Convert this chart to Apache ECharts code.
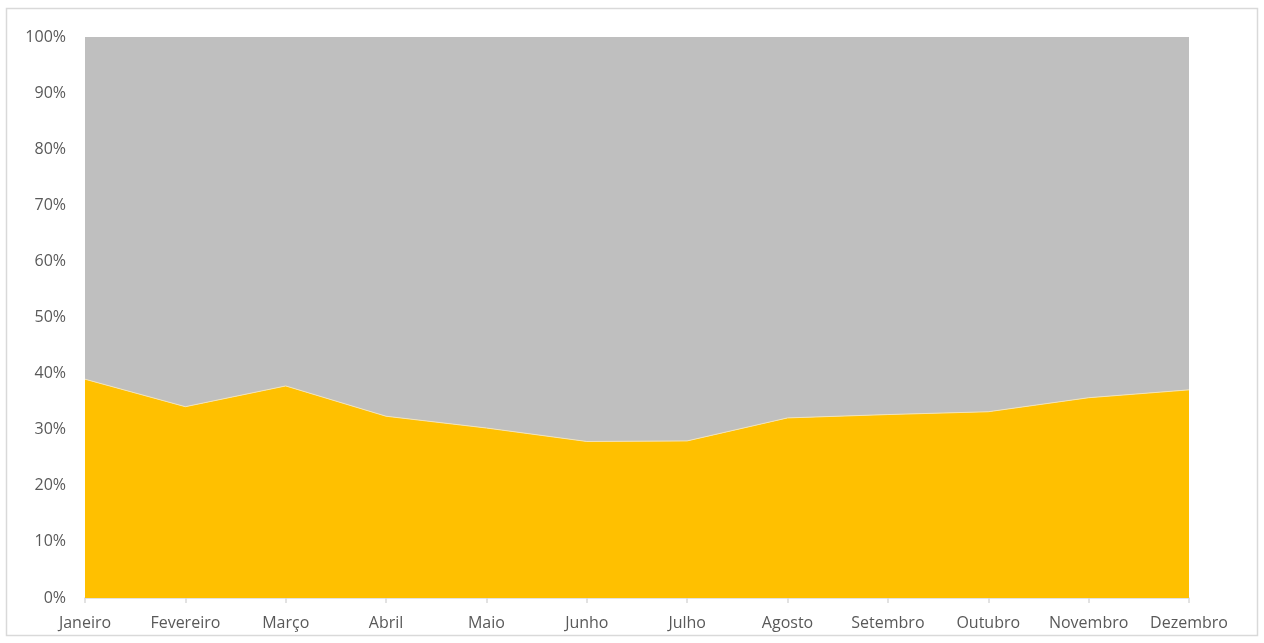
<!DOCTYPE html>
<html>
<head>
<meta charset="utf-8">
<style>
  html, body { margin: 0; padding: 0; background: #ffffff; }
  #chart { width: 1264px; height: 643px; }
</style>
<script src="https://cdn.jsdelivr.net/npm/echarts@6/dist/echarts.min.js"></script>
</head>
<body>
<div id="chart"></div>
<script>
// Monthly share of the two groups, in percent (each month sums to 100)
const months = ['Janeiro', 'Fevereiro', 'Março', 'Abril', 'Maio', 'Junho',
                'Julho', 'Agosto', 'Setembro', 'Outubro', 'Novembro', 'Dezembro'];
const shareYellow = [39.0, 34.1, 37.8, 32.4, 30.3, 27.9, 28.0, 32.1, 32.7, 33.2, 35.7, 37.1];
const shareGrey   = [61.0, 65.9, 62.2, 67.6, 69.7, 72.1, 72.0, 67.9, 67.3, 66.8, 64.3, 62.9];
const yTicks = { min: 0, max: 100, step: 10 };

const labelFont = { color: '#595959', fontSize: 16, fontFamily: 'Open Sans, Noto Sans, sans-serif' };

const chart = echarts.init(document.getElementById('chart'), null, { renderer: 'canvas' });
chart.setOption({
  animation: false,
  backgroundColor: '#ffffff',
  graphic: [{
    type: 'rect',
    shape: { x: 6.5, y: 8.5, width: 1251, height: 627 },
    style: { fill: 'none', stroke: '#d9d9d9', lineWidth: 1.5 },
    silent: true
  }],
  grid: { left: 85, right: 75, top: 37, bottom: 45 },
  xAxis: {
    type: 'category',
    data: months,
    boundaryGap: false,
    axisLine: { show: true, lineStyle: { color: '#d9d9d9', width: 1.5 } },
    axisTick: { show: true, length: 5, lineStyle: { color: '#d9d9d9', width: 1.5 } },
    axisLabel: Object.assign({ margin: 17, interval: 0 }, labelFont),
    splitLine: { show: false }
  },
  yAxis: {
    type: 'value',
    min: yTicks.min,
    max: yTicks.max,
    interval: yTicks.step,
    axisLine: { show: false },
    axisTick: { show: false },
    splitLine: { show: false },
    axisLabel: Object.assign({ margin: 19, formatter: '{value}%' }, labelFont)
  },
  series: [
    {
      name: 'A',
      type: 'line',
      stack: 'total',
      data: shareYellow,
      symbol: 'none',
      lineStyle: { width: 1, color: '#f2e3b8' },
      areaStyle: { color: '#ffc000', opacity: 1 },
      itemStyle: { color: '#ffc000' }
    },
    {
      name: 'B',
      type: 'line',
      stack: 'total',
      data: shareGrey,
      symbol: 'none',
      lineStyle: { width: 0 },
      areaStyle: { color: '#bfbfbf', opacity: 1 },
      itemStyle: { color: '#bfbfbf' }
    }
  ]
});
</script>
</body>
</html>
